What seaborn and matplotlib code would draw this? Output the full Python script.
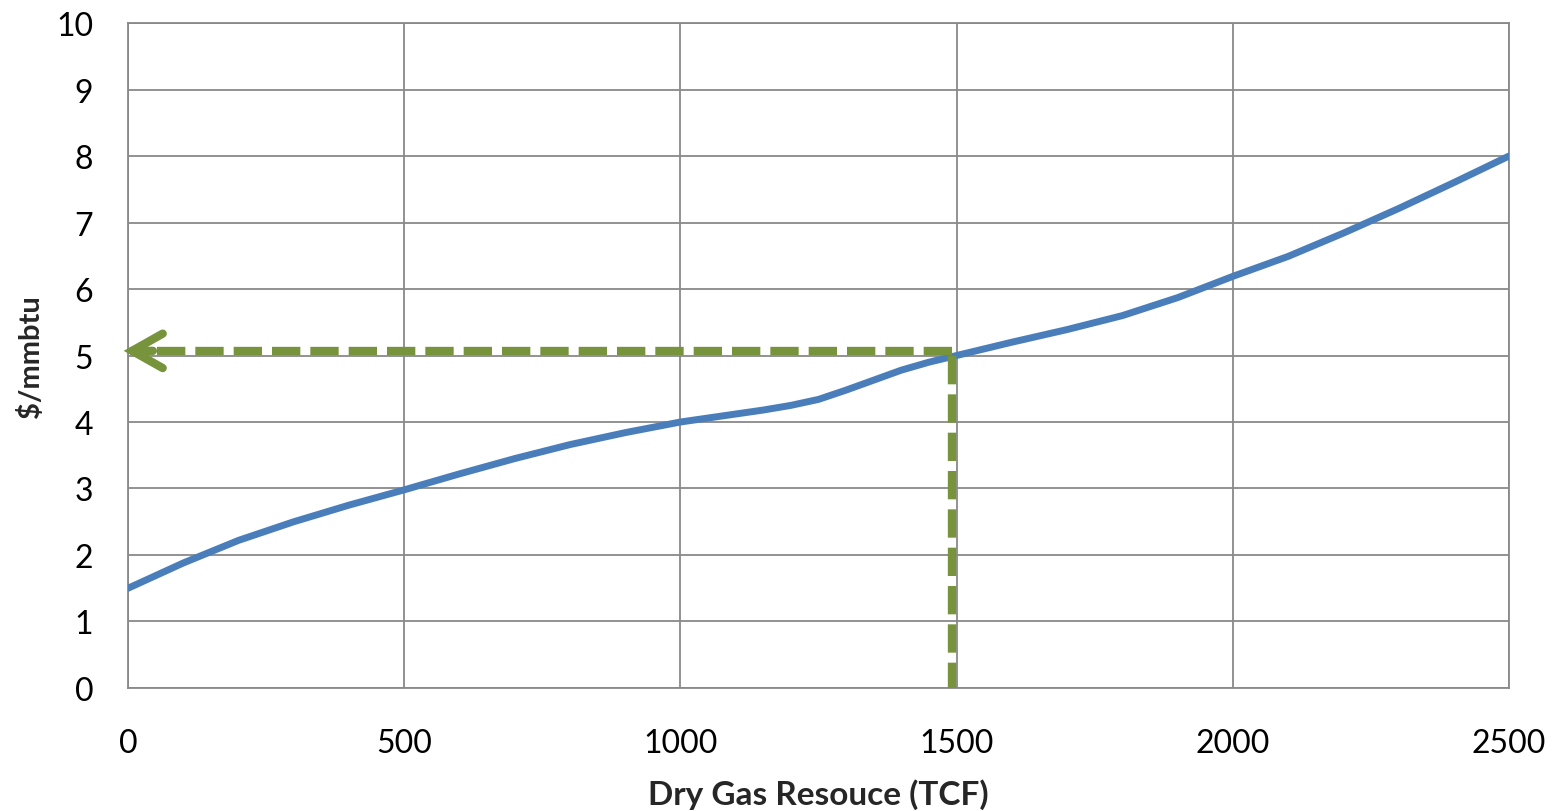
import matplotlib
matplotlib.use('Agg')
import matplotlib.pyplot as plt
import seaborn as sns
import pandas as pd

sns.set_theme(style='white')
plt.rcParams['font.family'] = ['Lato', 'DejaVu Sans']

# Supply curve
resource_tcf = [0, 100, 200, 300, 400, 500, 600, 700, 800, 900, 1000,
                1100, 1150, 1200, 1250, 1300, 1350, 1400, 1450, 1500,
                1600, 1700, 1800, 1900, 2000, 2100, 2200, 2300, 2400, 2500]
price = [1.5, 1.88, 2.22, 2.5, 2.75, 2.98, 3.22, 3.45, 3.66, 3.84, 4.0,
         4.12, 4.18, 4.25, 4.34, 4.48, 4.63, 4.78, 4.9, 5.0,
         5.2, 5.39, 5.6, 5.87, 6.19, 6.49, 6.84, 7.21, 7.6, 8.0]

# Marker lines (green dashed)
pick_x = 1492
pick_y = 5.07

df = pd.DataFrame({'resource': resource_tcf, 'price': price})

fig = plt.figure(figsize=(15.56, 8.12), dpi=100)
ax = fig.add_axes([0.0823, 0.1515, 0.8875, 0.8189])

grid_col = '#898989'
green = '#77933C'

sns.lineplot(data=df, x='resource', y='price', ax=ax, color='#4A7EBB',
             linewidth=5, zorder=3)

# horizontal dashed to the axis + open arrow head
ax.plot([pick_x, 20], [pick_y, pick_y], color=green, linewidth=6,
        dashes=(3.4, 1.2), dash_capstyle='butt', zorder=4, clip_on=False)
ax.annotate('', xy=(-13, pick_y), xytext=(50, pick_y),
            arrowprops=dict(arrowstyle='->,head_length=1.1,head_width=0.62',
                            color=green, linewidth=6, mutation_scale=20,
                            capstyle='round', joinstyle='miter'),
            annotation_clip=False, zorder=5)
# vertical dashed down to the x axis
ax.plot([pick_x, pick_x], [pick_y - 0.07, 0], color=green, linewidth=6,
        dashes=(3.4, 1.2), dash_capstyle='butt', zorder=4)

ax.set_xlim(0, 2500)
ax.set_ylim(0, 10)
ax.set_xticks(range(0, 2501, 500))
ax.set_yticks(range(0, 11))
ax.grid(True, color=grid_col, linewidth=1.3)
ax.set_axisbelow(True)
for sp in ax.spines.values():
    sp.set_color(grid_col)
    sp.set_linewidth(1.3)

ax.tick_params(axis='both', length=0, labelsize=23, colors='black')
ax.tick_params(axis='x', pad=28.5)
ax.tick_params(axis='y', pad=25)

ax.set_xlabel('Dry Gas Resouce (TCF)', fontsize=24, fontweight='bold', va='center')
ax.set_ylabel('$/mmbtu', fontsize=21, fontweight='bold', va='center')
ax.xaxis.set_label_coords(0.5, -0.159)
ax.yaxis.set_label_coords(-0.071, 0.5)

fig.savefig('out.png', dpi=100)
